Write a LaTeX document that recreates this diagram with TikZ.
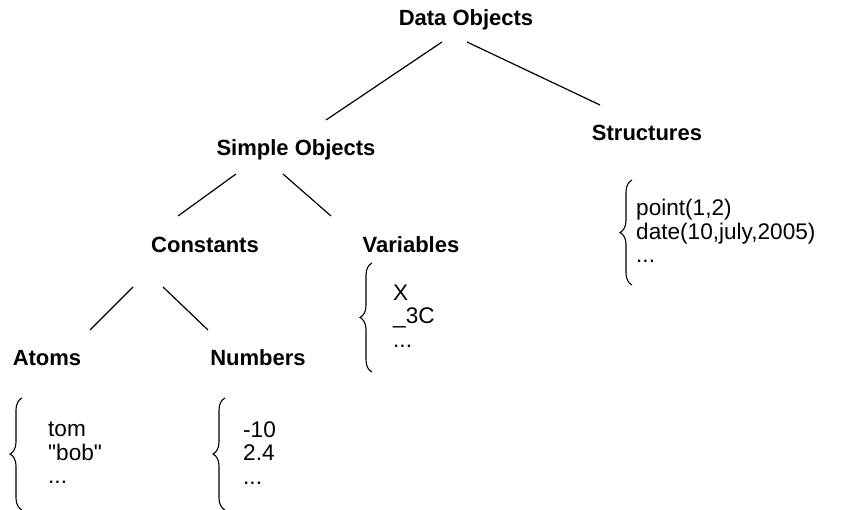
\documentclass[tikz,border=0pt]{standalone}
\usepackage{fontspec}
\setmainfont{Liberation Sans}
\usetikzlibrary{decorations.pathreplacing}
\begin{document}
\begin{tikzpicture}[x=1pt,y=-1pt,
  head/.style={font=\fontsize{22}{24}\selectfont\bfseries, inner sep=0pt},
  items/.style={font=\fontsize{22.6}{23.5}\selectfont, align=left, inner sep=0pt, anchor=west},
  link/.style={line width=1.2pt},
  curly/.style={line width=1.1pt, decorate, decoration={brace, amplitude=12pt}}]
\useasboundingbox (0,0) rectangle (856,510);
% headings
\node[head] (data) at (466,20) {Data Objects};
\node[head] (simple) at (296,150) {Simple Objects};
\node[head] (struct) at (647,133) {Structures};
\node[head] (const) at (205,245) {Constants};
\node[head] (vars) at (411,245) {Variables};
\node[head] (atoms) at (47,358) {Atoms};
\node[head] (nums) at (258,358) {Numbers};
% lists
\node[items] (atomlist) at (48,453) {tom\\\textquotedbl bob\textquotedbl\\...};
\node[items] (numlist) at (243,453) {-10\\2.4\\...};
\node[items] (varlist) at (393,316) {X\\\_3C\\...};
\node[items] (structlist) at (636,231) {point(1,2)\\date(10,july,2005)\\...};
% connectors
\draw[link] ([shift={(-24,22)}]data.center) -- ([shift={(30,-30)}]simple.center);
\draw[link] ([shift={(1,22)}]data.center) -- ([shift={(-47,-28)}]struct.center);
\draw[link] ([shift={(-60,24)}]simple.center) -- ([shift={(-27,-29)}]const.center);
\draw[link] ([shift={(-13,24)}]simple.center) -- ([shift={(-80,-29)}]vars.center);
\draw[link] ([shift={(-72,42)}]const.center) -- ([shift={(43,-28)}]atoms.center);
\draw[link] ([shift={(-42,42)}]const.center) -- ([shift={(-50,-28)}]nums.center);
% braces
\draw[curly] ([shift={(-26,57)}]atomlist.west) -- ([shift={(-26,-55)}]atomlist.west);
\draw[curly] ([shift={(-18,57)}]numlist.west) -- ([shift={(-18,-55)}]numlist.west);
\draw[curly] ([shift={(-21,56)}]varlist.west) -- ([shift={(-21,-53)}]varlist.west);
\draw[curly] ([shift={(-4,54)}]structlist.west) -- ([shift={(-4,-51)}]structlist.west);
\end{tikzpicture}
\end{document}
